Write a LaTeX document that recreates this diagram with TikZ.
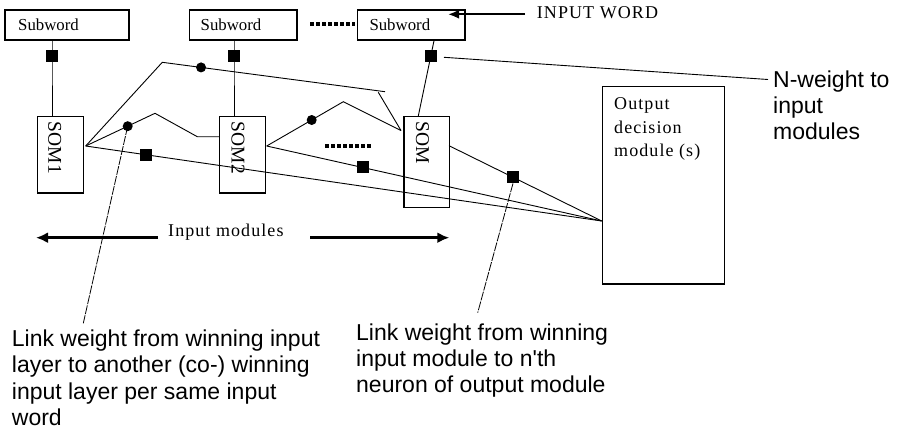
\documentclass[tikz,border=0pt]{standalone}
\usepackage{fontspec}
\setmainfont{Liberation Serif}
\newfontfamily\arialf{Liberation Sans}
\newfontfamily\serifsp[LetterSpace=6]{Liberation Serif}
\usetikzlibrary{arrows.meta,calc}
\begin{document}
\begin{tikzpicture}[x=1pt,y=-1pt,
  box/.style={draw,line width=1.2pt,inner sep=0pt,anchor=north west},
  sq/.style={fill=black,minimum size=12pt,inner sep=0pt},
  wdot/.style={circle,fill=black,minimum size=10pt,inner sep=0pt},
  link/.style={line width=0.9pt},
  ptr/.style={line width=0.8pt,dash pattern=on 9pt off 1.2pt},
  dotline/.style={line width=4pt,dash pattern=on 4pt off 2pt},
  bigarrow/.style={line width=2.5pt,-{Latex[length=12pt,width=11pt]}},
  swtext/.style={font=\fontsize{16.8}{20}\selectfont,inner sep=0pt,anchor=base west},
  somtext/.style={font=\fontsize{19.5}{22}\selectfont,inner sep=0pt,anchor=base west,rotate=-90},
  sertext/.style={font=\serifsp\fontsize{18}{23.3}\selectfont,inner sep=0pt},
  santext/.style={font=\arialf\fontsize{23}{26.1}\selectfont,inner sep=0pt,anchor=north west,align=left}
]
\useasboundingbox (0,0) rectangle (898,434);

% subword boxes
\node[box,minimum width=124pt,minimum height=30pt] (sw1) at (4.3,9.3) {};
\node[box,minimum width=107.3pt,minimum height=30pt] (sw2) at (189,9.3) {};
\node[box,minimum width=107.6pt,minimum height=30pt] (sw3) at (356.7,9.3) {};
\node[swtext] (sw1t) at (18,30) {Subword};
\node[swtext] (sw2t) at (200.5,30) {Subword};
\node[swtext] (sw3t) at (369.3,30) {Subword};
\coordinate (dtA) at (310,24.3);
\coordinate (dtB) at (355,24.3);
\draw[dotline] (dtA) -- (dtB);

% input word arrow
\coordinate (iwa) at (525,14.3);
\coordinate (iwb) at (448,14.3);
\draw[line width=2pt,-{Latex[length=11pt,width=9pt]}] (iwa) -- (iwb);
\node[sertext,anchor=base west] (iw) at (536.7,18.3) {INPUT WORD};

% SOM boxes
\node[box,minimum width=46pt,minimum height=76.3pt] (som1) at (36.7,116) {};
\node[box,minimum width=46pt,minimum height=76.3pt] (som2) at (219,116) {};
\node[box,minimum width=45.7pt,minimum height=90.7pt] (som3) at (403.3,116) {};
\node[somtext] (som1t) at (48.3,121.7) {SOM1};
\node[somtext] (som2t) at (231.7,121.7) {SOM2};
\node[somtext] (som3t) at (416,121.7) {SOM};

% output box
\node[box,minimum width=122.3pt,minimum height=197.3pt] (out) at (601.7,86) {};
\node[sertext,anchor=north west,align=left] (outt) at (614,97.8) {Output\\decision\\module (s)};

% subword to SOM connectors
\node[sq] (w1) at (52,56) {};
\node[sq] (w2) at (234,56) {};
\draw[link] (sw1.south -| w1) -- (w1.center) -- (w1 |- som1.north);
\draw[link] (sw2.south -| w2) -- (w2.center) -- (w2 |- som2.north);
\coordinate (a3) at (434.3,39.3);
\coordinate (b3) at (418.3,116);
\draw[link] (a3) -- (b3);
\node[sq] (w3) at ($(a3)!0.214!(b3)$) {};

% N-weight pointer
\coordinate (nwa) at (444,57.3);
\coordinate (nwb) at (768,79.5);
\draw[link] (nwa) -- (nwb);
\node[santext] (nwt) at (773,70.2) {N-weight to\\input\\modules};

% link junctions
\coordinate (p1) at (85.7,146);
\coordinate (p2) at (266.7,146);
\coordinate (p3) at (449,145.7);
\coordinate (q) at (601.7,221);
\coordinate (p3in) at (401,130.5);

% upper link SOM1 -> SOM3
\coordinate (u1) at (162.3,62.3);
\coordinate (u2) at (385,91.7);
\coordinate (u3) at (378.3,92.3);
\draw[link] (p1) -- (u1) -- (u2);
\draw[link] (u3) -- (p3in);
\node[wdot] (c1) at ($(u1)!0.174!(u2)$) {};

% middle link SOM1 -> SOM2
\node[wdot] (c2) at (127.7,126.2) {};
\coordinate (m1) at (155,113.3);
\coordinate (m2) at (197.3,136.7);
\coordinate (m3) at (219,136.7);
\draw[link] (p1) -- (c2.center) -- (m1) -- (m2) -- (m3);

% link SOM2 -> SOM3
\node[wdot] (c3) at (311.7,120) {};
\coordinate (n1) at (343.3,101.7);
\draw[link] (p2) -- (c3.center) -- (n1) -- (p3in);

% links to output
\draw[link] (p1) -- (q);
\draw[link] (p2) -- (q);
\draw[link] (p3) -- (q);
\node[sq] (s1) at ($(p1)!0.1164!(q)$) {};
\node[sq] (s2) at ($(p2)!0.286!(q)$) {};
\node[sq] (s3) at ($(p3)!0.419!(q)$) {};

\coordinate (dmA) at (325,145.7);
\coordinate (dmB) at (371.7,145.7);
\draw[dotline] (dmA) -- (dmB);

% input modules arrows
\coordinate (imL) at (36,237.7);
\coordinate (imLs) at (158,237.7);
\coordinate (imRs) at (310,237.7);
\coordinate (imR) at (449.3,237.7);
\draw[bigarrow] (imLs) -- (imL);
\draw[bigarrow] (imRs) -- (imR);
\node[sertext,anchor=base west] (imt) at (168,236) {Input modules};

% pointers to explanations
\coordinate (e1) at (83.3,323.3);
\draw[ptr] (c2.center) -- (e1);
\coordinate (e2) at (477.7,312.7);
\draw[ptr] (s3.south) -- (e2);
\node[santext] (lt1) at (11.7,330) {Link weight from winning input\\layer to another (co-) winning\\input layer per same input\\word};
\node[santext] (lt2) at (356,323.3) {Link weight from winning\\input module to n'th\\neuron of output module};
\end{tikzpicture}
\end{document}
